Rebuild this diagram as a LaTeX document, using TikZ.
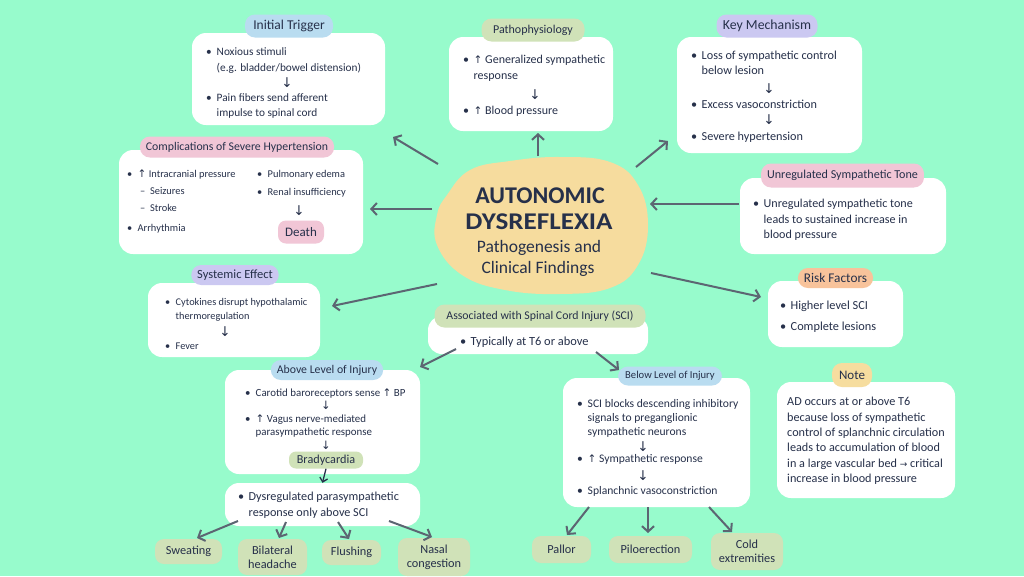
\documentclass[tikz,border=0pt]{standalone}
\usepackage{fontspec}
\setmainfont{Carlito}
\newfontfamily\sym{DejaVu Sans}
\usetikzlibrary{arrows.meta}
\definecolor{bg}{HTML}{97FBCC}
\definecolor{ink}{HTML}{26304A}
\definecolor{arrc}{HTML}{5C6572}
\definecolor{pblue}{HTML}{B9DCF0}
\definecolor{pgreen}{HTML}{D0E2B8}
\definecolor{ppink}{HTML}{F1C6D6}
\definecolor{ppurple}{HTML}{CBC8F1}
\definecolor{porange}{HTML}{F8C39B}
\definecolor{pyellow}{HTML}{F6DD9F}
\definecolor{blobc}{HTML}{F6DC9E}
\newcommand{\fs}[1]{\fontsize{#1}{#1}\selectfont}
\newcommand{\myup}{{\sym\fontsize{10.5}{10}\selectfont ↑}}
\newcommand{\myright}{{\sym\fontsize{9}{10}\selectfont →}}
\newcommand{\bu}{\makebox[10.5pt][l]{•}}
\begin{document}
\begin{tikzpicture}[x=1pt,y=-1pt,
  box/.style={fill=white, rounded corners=14pt, inner sep=0pt},
  pill/.style={rounded corners=10pt, minimum height=23pt, inner xsep=6pt, inner ysep=0pt, font=\fs{#1}, text=ink},
  pill/.default=12,
  ln/.style={anchor=base west, inner sep=0pt, text=ink, font=\fs{#1}},
  ln/.default=11.5,
  dn/.style={inner sep=0pt, text=ink, font=\sym\fs{13.5}},
  arr/.style={draw=arrc, line width=2pt, -{Straight Barb[length=5.5pt,width=12pt]}},
  leaf/.style={fill=pgreen, rounded corners=9pt, text=ink, font=\fontsize{12.3}{14}\selectfont, align=center, inner sep=0pt}]
\fill[bg] (0,0) rectangle (1024,576);
\useasboundingbox (0,0) rectangle (1024,576);

% central blob
\fill[blobc] plot[smooth cycle, tension=0.7] coordinates {(447,195) (470,170) (510,161) (560,157) (610,162) (638,185) (648,225) (638,265) (610,288) (560,294) (505,290) (462,275) (437,245) (437,215)};
\node[inner sep=0pt, text=ink, font=\bfseries\fs{24}] (t1) at (540,196) {AUTONOMIC};
\node[inner sep=0pt, text=ink, font=\bfseries\fs{24}] (t2) at (539,222) {\scalebox{1.13}[1]{DYSREFLEXIA}};
\node[inner sep=0pt, text=ink, font=\fs{17.5}] (t3) at (539,248) {Pathogenesis and};
\node[inner sep=0pt, text=ink, font=\fs{17.5}] (t4) at (538,269) {Clinical Findings};

% Initial Trigger
\node[box, minimum width=193pt, minimum height=92pt] (bit) at (288.5,79) {};
\node[pill=13.5, fill=pblue, minimum width=88pt] (pit) at (289,26) {Initial Trigger};
\node[ln=11.3] (it1) at (206,55) {\bu Noxious stimuli};
\node[ln=11.3] (it2) at (216.5,71) {(e.g. bladder/bowel distension)};
\node[dn] (it3) at (287,83) {↓};
\node[ln=11.3] (it4) at (206,101) {\bu Pain fibers send afferent};
\node[ln=11.3] (it5) at (216.5,116) {impulse to spinal cord};

% Pathophysiology
\node[box, minimum width=164pt, minimum height=94pt] (bpa) at (531,84) {};
\node[pill=12, fill=pgreen, minimum width=103pt] (ppa) at (533,30) {Pathophysiology};
\node[ln=12] (pa1) at (463,63) {\bu\myup\ Generalized sympathetic};
\node[ln=12] (pa2) at (473.5,79) {response};
\node[dn] (pa3) at (535,95) {↓};
\node[ln=12] (pa4) at (463,114) {\bu\myup\ Blood pressure};

% Key Mechanism
\node[box, minimum width=185pt, minimum height=116pt] (bkm) at (769.5,95) {};
\node[pill=13.8, fill=ppurple, minimum width=101pt] (pkm) at (767,26) {Key Mechanism};
\node[ln=12.2] (km1) at (691,59) {\bu Loss of sympathetic control};
\node[ln=12.2] (km2) at (701.5,74) {below lesion};
\node[dn] (km3) at (769,89) {↓};
\node[ln=12.2] (km4) at (691,108) {\bu Excess vasoconstriction};
\node[dn] (km5) at (769,120) {↓};
\node[ln=12.2] (km6) at (691,140) {\bu Severe hypertension};

% Complications
\node[box, minimum width=244pt, minimum height=104pt] (bco) at (241,202) {};
\node[pill=11.8, fill=ppink, minimum width=193pt, minimum height=21pt] (pco) at (237,147) {Complications of Severe Hypertension};
\node[ln=10.4] (co1) at (127,177) {\bu\myup\ Intracranial pressure};
\node[ln=10.4] (co2) at (140,194) {–\ \ Seizures};
\node[ln=10.4] (co3) at (140,211) {–\ \ Stroke};
\node[ln=10.4] (co4) at (127,231) {\bu Arrhythmia};
\node[ln=10.4] (co5) at (257,177) {\bu Pulmonary edema};
\node[ln=10.4] (co6) at (257,195) {\bu Renal insufficiency};
\node[dn] (co7) at (299,211) {↓};
\node[pill=13, fill=ppink, minimum width=46pt, minimum height=23pt, rounded corners=8pt] (death) at (301,232) {Death};

% Unregulated Sympathetic Tone
\node[box, minimum width=206pt, minimum height=76pt] (bun) at (843,216) {};
\node[pill=12.1, fill=ppink, minimum width=161pt, minimum height=24pt] (pun) at (842.5,175.5) {Unregulated Sympathetic Tone};
\node[ln=12.1] (un1) at (753,207) {\bu Unregulated sympathetic tone};
\node[ln=12.1] (un2) at (763.5,223) {leads to sustained increase in};
\node[ln=12.1] (un3) at (763.5,238) {blood pressure};

% Risk Factors
\node[box, minimum width=135pt, minimum height=66pt] (bri) at (835.5,314) {};
\node[pill=13.3, fill=porange, minimum width=75pt, minimum height=20pt] (pri) at (835.5,278) {Risk Factors};
\node[ln=12.3] (ri1) at (780,309) {\bu Higher level SCI};
\node[ln=12.3] (ri2) at (780,330) {\bu Complete lesions};

% Systemic Effect
\node[box, minimum width=172pt, minimum height=74pt] (bsy) at (234,320) {};
\node[pill=12.5, fill=ppurple, minimum width=86pt, minimum height=20pt] (psy) at (235,275) {Systemic Effect};
\node[ln=10.3] (sy1) at (165,305) {\bu Cytokines disrupt hypothalamic};
\node[ln=10.3] (sy2) at (175.5,319) {thermoregulation};
\node[dn] (sy3) at (225,332) {↓};
\node[ln=10.3] (sy4) at (165,349) {\bu Fever};

% Associated with SCI
\node[box, minimum width=220pt, minimum height=38pt] (bsc) at (538,335) {};
\node[pill=11.8, fill=pgreen, minimum width=211pt, minimum height=23pt] (psc) at (540,316) {Associated with Spinal Cord Injury (SCI)};
\node[ln=12.4] (sc1) at (460,345) {\bu Typically at T6 or above};

% Above Level of Injury
\node[box, minimum width=195pt, minimum height=104pt] (bab) at (322.5,422) {};
\node[pill=11.8, fill=pblue, minimum width=110pt, minimum height=20pt] (pab) at (327,370) {Above Level of Injury};
\node[ln=10.9] (ab1) at (245,396) {\bu Carotid baroreceptors sense \myup\ BP};
\node[dn, font=\sym\fs{11.5}] (ab2) at (326,405.5) {↓};
\node[ln=10.9] (ab3) at (245,422) {\bu\myup\ Vagus nerve-mediated};
\node[ln=10.9] (ab4) at (255.5,435) {parasympathetic response};
\node[dn, font=\sym\fs{11.5}] (ab5) at (326,445) {↓};
\node[pill=12.2, fill=pgreen, minimum width=74pt, minimum height=17pt, rounded corners=7pt] (brady) at (326,460) {Bradycardia};

% Dysregulated box
\node[box, minimum width=195pt, minimum height=43pt] (bdy) at (322.5,504.5) {};
\node[ln=12.2] (dy1) at (238,500) {\bu Dysregulated parasympathetic};
\node[ln=12.2] (dy2) at (248.5,516) {response only above SCI};

% Below Level of Injury
\node[box, minimum width=187pt, minimum height=129pt] (bbe) at (656.5,442.5) {};
\node[pill=10.6, fill=pblue, minimum width=104pt, minimum height=19pt] (pbe) at (670,376) {Below Level of Injury};
\node[ln=11.6] (be1) at (577,407) {\bu SCI blocks descending inhibitory};
\node[ln=11.6] (be2) at (587.5,421) {signals to preganglionic};
\node[ln=11.6] (be3) at (587.5,435) {sympathetic neurons};
\node[dn] (be4) at (643,447) {↓};
\node[ln=11.6] (be5) at (577,462) {\bu\myup\ Sympathetic response};
\node[dn] (be6) at (643,476) {↓};
\node[ln=11.6] (be7) at (577,494) {\bu Splanchnic vasoconstriction};

% Note
\node[box, minimum width=178pt, minimum height=116pt] (bno) at (866,440) {};
\node[pill=13, fill=pyellow, minimum width=40pt, minimum height=24pt] (pno) at (852,375) {Note};
\node[ln=12.2] (no1) at (787,405) {AD occurs at or above T6};
\node[ln=12.2] (no2) at (787,421) {because loss of sympathetic};
\node[ln=12.2] (no3) at (787,436) {control of splanchnic circulation};
\node[ln=12.2] (no4) at (787,451) {leads to accumulation of blood};
\node[ln=12.2] (no5) at (787,467) {in a large vascular bed \myright\ critical};
\node[ln=12.2] (no6) at (787,482) {increase in blood pressure};

% bottom leaves
\node[leaf, minimum width=67pt, minimum height=25pt] (sw) at (188.5,551.5) {Sweating};
\node[leaf, minimum width=69pt, minimum height=36pt] (bh) at (272.5,557) {Bilateral\\headache};
\node[leaf, minimum width=59pt, minimum height=25pt] (fl) at (351.5,552.5) {Flushing};
\node[leaf, minimum width=72pt, minimum height=38pt] (nc) at (434,557) {Nasal\\congestion};
\node[leaf, minimum width=59pt, minimum height=27pt] (pal) at (561.5,549.5) {Pallor};
\node[leaf, minimum width=83pt, minimum height=27pt] (pil) at (650.5,549.5) {Piloerection};
\node[leaf, minimum width=72pt, minimum height=37pt] (ce) at (747,551.5) {Cold\\extremities};

% connector end points
\coordinate (s1) at (438,164); \coordinate (e1) at (393,137);
\coordinate (s2) at (538,156); \coordinate (e2) at (538,133);
\coordinate (s3) at (636,167); \coordinate (e3) at (668,141);
\coordinate (s4) at (432,209); \coordinate (e4) at (370,209);
\coordinate (s5) at (739,204); \coordinate (e5) at (650,204);
\coordinate (s6) at (651,273); \coordinate (e6) at (761,297);
\coordinate (s7) at (437,284); \coordinate (e7) at (332,306);
\coordinate (s8) at (456,349); \coordinate (e8) at (420,367);
\coordinate (s9) at (596,352); \coordinate (e9) at (619,370);
\draw[arr] (s1) -- (e1);
\draw[arr] (s2) -- (e2);
\draw[arr] (s3) -- (e3);
\draw[arr] (s4) -- (e4);
\draw[arr] (s5) -- (e5);
\draw[arr] (s6) -- (e6);
\draw[arr] (s7) -- (e7);
\draw[arr] (s8) -- (e8);
\draw[arr] (s9) -- (e9);
\draw[draw=ink, line width=1.3pt, -{Straight Barb[length=4pt,width=8pt]}] (brady.south) -- (bdy.north);

\coordinate (d1) at (238,521); \coordinate (d2) at (286,522); \coordinate (d3) at (338,522); \coordinate (d4) at (389,521);
\coordinate (f1) at (197,538); \coordinate (f2) at (279,538); \coordinate (f3) at (349,539); \coordinate (f4) at (432,537);
\draw[arr] (d1) -- (f1);
\draw[arr] (d2) -- (f2);
\draw[arr] (d3) -- (f3);
\draw[arr] (d4) -- (f4);
\coordinate (b1) at (589,507); \coordinate (b2) at (648,507); \coordinate (b3) at (709,507);
\coordinate (g1) at (567,535); \coordinate (g2) at (648,533); \coordinate (g3) at (732,532);
\draw[arr] (b1) -- (g1);
\draw[arr] (b2) -- (g2);
\draw[arr] (b3) -- (g3);
\end{tikzpicture}
\end{document}
